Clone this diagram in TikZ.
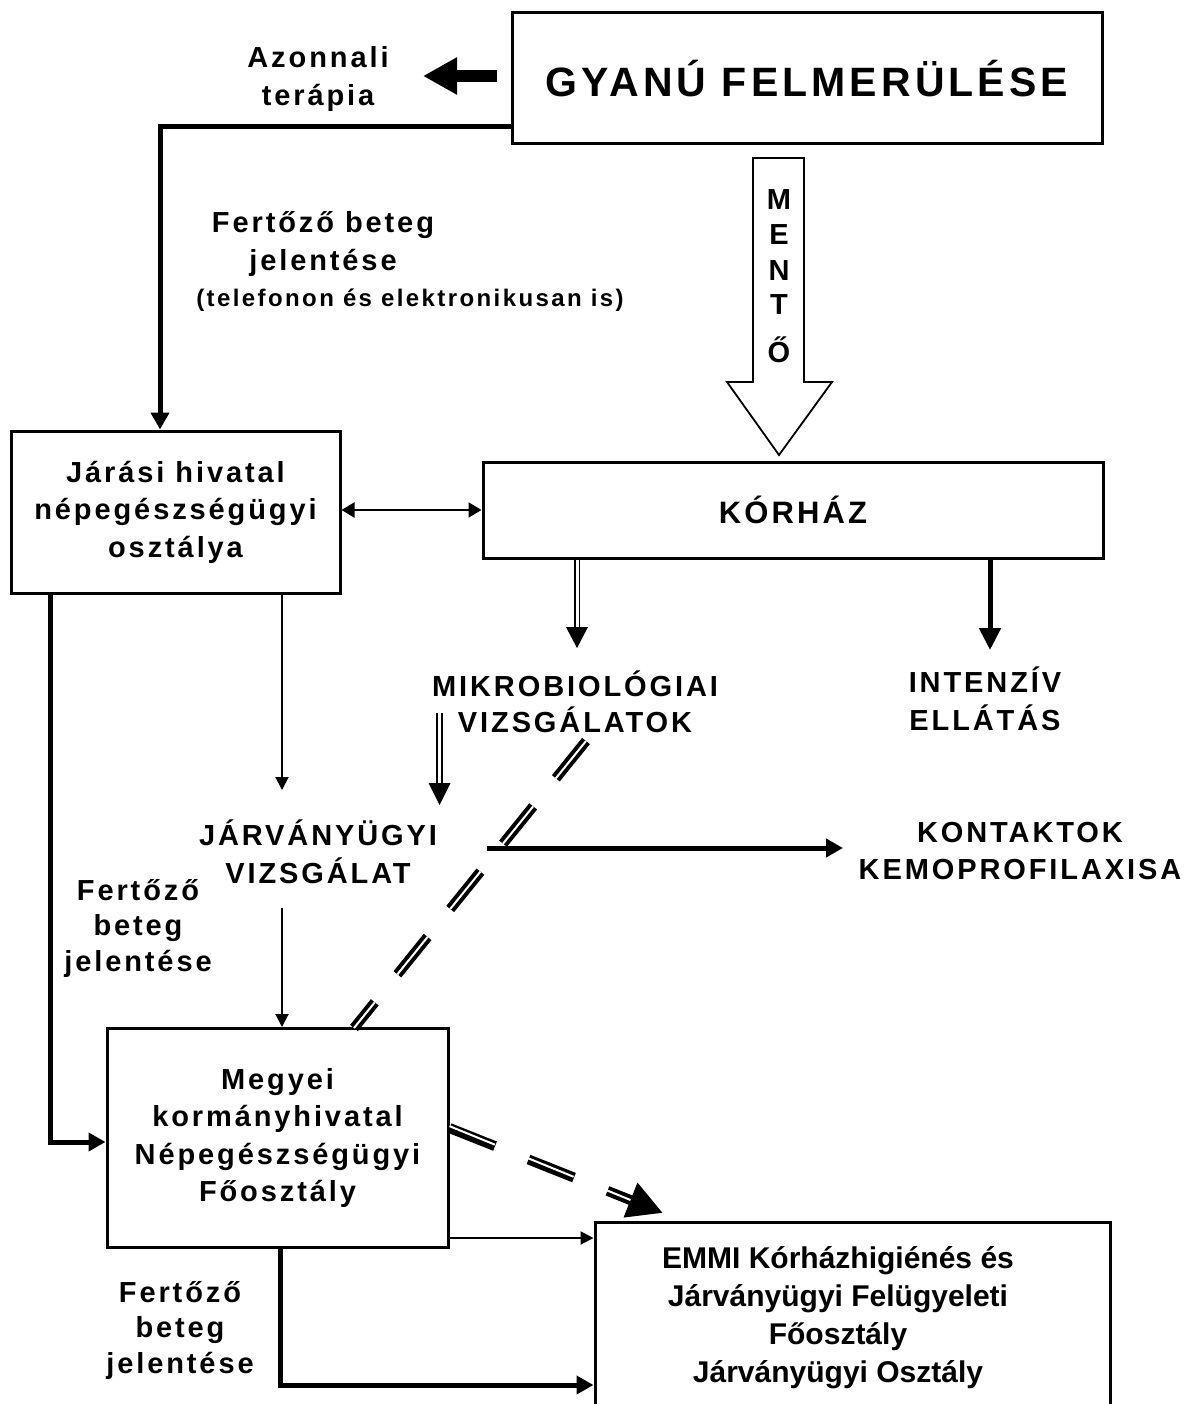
\documentclass[tikz,border=0pt]{standalone}
\usepackage{fontspec}
\setmainfont{Liberation Sans}
\newfontfamily\lsp[LetterSpace=10]{Liberation Sans}
\usetikzlibrary{arrows.meta}
\begin{document}
\begin{tikzpicture}[x=1pt,y=-1pt,
  box/.style={draw, line width=3pt, inner sep=0pt, align=center, font=\lsp\bfseries\fontsize{29}{37.5}\selectfont},
  lbl/.style={inner sep=0pt, align=center, font=\lsp\bfseries\fontsize{29}{37.5}\selectfont},
  lbls/.style={inner sep=0pt, align=center, font=\lsp\bfseries\fontsize{29}{35.5}\selectfont},
  mlet/.style={inner sep=0pt, anchor=base, font=\bfseries\fontsize{29}{30}\selectfont},
  thickarr/.style={line width=5pt, -{Triangle[length=17pt,width=18pt]}},
  thinarr/.style={line width=2pt, -{Triangle[length=13pt,width=13pt]}},
  dbl/.style={double, double distance=3pt, line width=1.8pt},
  dashblk/.style={line width=10pt, dash pattern=on 48pt off 36pt},
  dashwht/.style={line width=2pt, white, dash pattern=on 48pt off 36pt}
]
\useasboundingbox (0,0) rectangle (1189,1404);
\fill[white] (0,0) rectangle (1189,1404);

% nodes
\node[box, minimum width=590pt, minimum height=131pt, font=\lsp\bfseries\fontsize{41}{45}\selectfont] (gyanu) at (807,78.5) {GYANÚ FELMERÜLÉSE};
\node[lbl] (azon) at (318,79) {Azonnali\\terápia};
\node[lbl] (fert1) at (323,244) {Fertőző beteg\\jelentése};
\node[lbl, font=\lsp\bfseries\fontsize{24}{28}\selectfont] (tel) at (410,300) {(telefonon és elektronikusan is)};
\node[box, minimum width=329pt, minimum height=162pt] (jarasi) at (175.5,512) {Járási hivatal\\népegészségügyi\\osztálya};
\node[box, minimum width=620pt, minimum height=96pt, font=\lsp\bfseries\fontsize{31}{36}\selectfont] (korhaz) at (793,510) {KÓRHÁZ};
\node[lbls] (mikro) at (575,702) {MIKROBIOLÓGIAI\\VIZSGÁLATOK};
\node[lbl] (inten) at (985,699) {INTENZÍV\\ELLÁTÁS};
\node[lbl] (jarv) at (318,852) {JÁRVÁNYÜGYI\\VIZSGÁLAT};
\node[lbl] (kont) at (1020,851) {KONTAKTOK\\KEMOPROFILAXISA};
\node[lbls] (fert2) at (138,928) {Fertőző\\beteg\\jelentése};
\node[box, minimum width=341pt, minimum height=219pt] (megyei) at (277.5,1138) {Megyei\\kormányhivatal\\Népegészségügyi\\Főosztály};
\node[lbls] (fert3) at (180,1330) {Fertőző\\beteg\\jelentése};
\node[box, minimum width=515pt, minimum height=192pt] (emmi) at (852.5,1318) {};
\node[inner sep=0pt, align=center, font=\bfseries\fontsize{30}{38}\selectfont] (emmitxt) at (838,1318) {EMMI Kórházhigiénés és\\Járványügyi Felügyeleti\\Főosztály\\Járványügyi Osztály};

% MENTŐ arrow
\draw[line width=1.8pt, fill=white] (753,158) -- (804,158) -- (804,382) -- (832,382) -- (779,455) -- (727,382) -- (753,382) -- cycle;
\node[mlet] (m1) at (779,210) {M};
\node[mlet] (m2) at (779,245) {E};
\node[mlet] (m3) at (779,280) {N};
\node[mlet] (m4) at (779,315) {T};
\node[mlet] (m5) at (779,362) {Ő};

% coordinates for free ends
\coordinate (azTip) at (423,76);
\coordinate (mkTip) at (577,648);
\coordinate (inTip) at (990,650);
\coordinate (jvTip) at (282,790);
\coordinate (mjTop) at (439.5,713);
\coordinate (mjTip) at (439.5,805);
\coordinate (kStart) at (487,848);
\coordinate (kTip) at (843,848);
\coordinate (jmStart) at (282,908);
\coordinate (d1s) at (586,741);
\coordinate (d1e) at (354,1028);
\coordinate (d2tip) at (663,1213);
\coordinate (d2base) at (630.5,1200);

% connectors
\draw[thickarr] (gyanu.west |- 0,127) -| (jarasi.north -| 160,0);
\draw[line width=12pt, -{Triangle[length=34pt,width=35pt]}] (gyanu.west |- 0,76) [shorten <=14pt] -- (azTip);
\draw[line width=2pt, {Triangle[length=13pt,width=15pt]}-{Triangle[length=13pt,width=15pt]}] (jarasi.east |- 0,510) -- (korhaz.west |- 0,510);
\draw[dbl] (korhaz.south -| mkTip) -- ([yshift=19pt]mkTip);
\fill (566,627) -- (588,627) -- (mkTip) -- cycle;
\draw[line width=5pt, -{Triangle[length=22pt,width=21pt]}] (korhaz.south -| inTip) -- (inTip);
\draw[thinarr] (jarasi.south -| jvTip) -- (jvTip);
\draw[dbl] (mjTop) -- ([yshift=21pt]mjTip);
\fill (428.5,783) -- (450.5,783) -- (mjTip) -- cycle;
\draw[line width=5pt, -{Triangle[length=17pt,width=18pt]}] (kStart) -- (kTip);
\draw[thinarr] (jmStart) -- (jmStart |- megyei.north);
\draw[thickarr] (jarasi.south -| 50,0) |- (megyei.west |- 0,1142);
\draw[thinarr] (megyei.east |- 0,1238) -- (emmi.west |- 0,1238);
\draw[thickarr] (megyei.south -| 280,0) |- (emmi.west |- 0,1385);

% dashed double diagonals
\draw[dashblk] (d1s) -- (d1e);
\begin{scope}[shift={(-1.56,-1.26)}]
\draw[dashwht] (d1s) -- (d1e);
\end{scope}
\draw[line width=10pt, dash pattern=on 49pt off 36pt, -{Triangle[length=35pt,width=35pt]}] (megyei.east |- 0,1128) -- (d2tip);
\begin{scope}[shift={(0.74,-1.86)}]
\draw[line width=2pt, white, dash pattern=on 49pt off 36pt] (megyei.east |- 0,1128) -- (d2base);
\end{scope}
\end{tikzpicture}
\end{document}
